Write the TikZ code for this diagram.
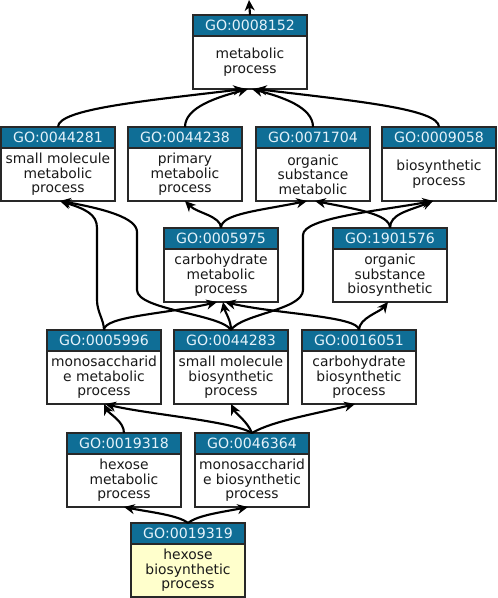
\documentclass[tikz,border=0pt]{standalone}
\usepackage{fontspec}
\setmainfont{DejaVu Sans}
\usetikzlibrary{arrows.meta}
\definecolor{headblue}{RGB}{15,110,150}
\definecolor{headtext}{RGB}{228,242,250}
\definecolor{boxborder}{RGB}{40,40,40}
\definecolor{bodytext}{RGB}{25,25,25}
\definecolor{yellowfill}{RGB}{255,255,204}
\newcommand\gonode[6][white]{%
  \node[gobody, fill=#1] (#2) at (#3,#4) {#6};
  \node[gohead, anchor=south] (#2h) at (#2.north) {#5};
}
\tikzset{
  gobody/.style={draw=boxborder, line width=0.8pt, minimum width=85.5pt,
    minimum height=39.75pt, inner sep=0pt, outer sep=0pt, align=center,
    text=bodytext, font=\fontsize{10.4pt}{11pt}\selectfont},
  gohead/.style={draw=boxborder, line width=0.8pt, fill=headblue, minimum width=85.5pt,
    minimum height=15.75pt, inner sep=0pt, outer sep=0pt, text=headtext,
    font=\fontsize{10.6pt}{11pt}\selectfont},
  goarrow/.style={line width=1.6pt, draw=black, -{Stealth[length=8pt,width=7.5pt,inset=2.5pt]}}
}
\begin{document}
\begin{tikzpicture}[x=0.75pt,y=-0.75pt]
\useasboundingbox (0,0) rectangle (498,598);
\gonode{n8152}{250}{62.5}{GO:0008152}{metabolic\\process}
\gonode{n44281}{58}{174.5}{GO:0044281}{small molecule\\metabolic\\process}
\gonode{n44238}{185}{174.5}{GO:0044238}{primary\\metabolic\\process}
\gonode{n71704}{313}{174.5}{GO:0071704}{organic\\substance\\metabolic}
\gonode{n9058}{439}{174.5}{GO:0009058}{biosynthetic\\process}
\gonode{n5975}{221}{275.5}{GO:0005975}{carbohydrate\\metabolic\\process}
\gonode{n1901576}{390}{275.5}{GO:1901576}{organic\\substance\\biosynthetic}
\gonode{n5996}{104}{377.5}{GO:0005996}{monosaccharid\\e metabolic\\process}
\gonode{n44283}{231}{377.5}{GO:0044283}{small molecule\\biosynthetic\\process}
\gonode{n16051}{359}{377.5}{GO:0016051}{carbohydrate\\biosynthetic\\process}
\gonode{n19318}{124}{480.5}{GO:0019318}{hexose\\metabolic\\process}
\gonode{n46364}{252}{480.5}{GO:0046364}{monosaccharid\\e biosynthetic\\process}
\gonode[yellowfill]{n19319}{188}{570.5}{GO:0019319}{hexose\\biosynthetic\\process}

\coordinate (topend) at (249,0);
\draw[goarrow] (n8152h.north) -- (topend);

% row 2 -> top
\draw[goarrow] (n44281h.north) .. controls +(0,-18) and +(-100,12) .. ([xshift=-4.5pt]n8152.south);
\draw[goarrow] (n44238h.north) .. controls +(0,-20) and +(-30,8) .. ([xshift=-1.5pt]n8152.south);
\draw[goarrow] (n71704h.north) .. controls +(0,-20) and +(30,8) .. ([xshift=1.5pt]n8152.south);
\draw[goarrow] (n9058h.north) .. controls +(0,-18) and +(100,12) .. ([xshift=4.5pt]n8152.south);

% row 3 -> row 2
\draw[goarrow] (n5975h.north) .. controls +(0,-12) and +(12,12) .. (n44238.south);
\draw[goarrow] (n5975h.north) .. controls +(0,-14) and +(-50,10) .. ([xshift=-4.5pt]n71704.south);
\draw[goarrow] (n1901576h.north) .. controls +(0,-14) and +(40,8) .. ([xshift=1.5pt]n71704.south);
\draw[goarrow] (n1901576h.north) .. controls +(0,-14) and +(-25,10) .. ([xshift=-4.5pt]n9058.south);

% row 4 -> rows 2,3
\draw[goarrow] (n5996h.north) .. controls +(0,-10) and +(0,12) .. (97,300) -- (97,228)
  .. controls +(0,-14) and +(25,8) .. ([xshift=1.5pt]n44281.south);
\draw[goarrow] (n44283h.north) .. controls +(-10,-16) and +(0,20) .. (137,290) -- (137,232)
  .. controls +(0,-14) and +(45,8) .. ([xshift=1.5pt]n44281.south);
\draw[goarrow] (n44283h.north) .. controls +(0,-10) and +(2,10) .. ([xshift=1.5pt]n5975.south);
\draw[goarrow] (n44283h.north) .. controls +(10,-16) and +(0,20) .. (303,290) -- (303,235)
  .. controls +(0,-17) and +(-55,10) .. ([xshift=-4.5pt]n9058.south);
\draw[goarrow] (n5996h.north) .. controls +(0,-14) and +(-50,12) .. ([xshift=-3pt]n5975.south);
\draw[goarrow] (n16051h.north) .. controls +(0,-14) and +(50,12) .. ([xshift=3pt]n5975.south);
\draw[goarrow] (n16051h.north) .. controls +(0,-12) and +(-8,10) .. ([xshift=-1.5pt]n1901576.south);

% row 5 -> row 4
\draw[goarrow] (n19318h.north) .. controls +(0,-12) and +(5,10) .. (n5996.south);
\draw[goarrow] (n46364h.north) .. controls +(-20,-12) and +(40,10) .. ([xshift=1pt]n5996.south);
\draw[goarrow] (n46364h.north) .. controls +(-5,-12) and +(5,10) .. (n44283.south);
\draw[goarrow] (n46364h.north) .. controls +(20,-12) and +(-40,10) .. ([xshift=-3pt]n16051.south);

% row 6 -> row 5
\draw[goarrow] (n19319h.north) .. controls +(-10,-8) and +(25,5) .. (n19318.south);
\draw[goarrow] (n19319h.north) .. controls +(10,-8) and +(-25,5) .. ([xshift=-3pt]n46364.south);
\end{tikzpicture}
\end{document}
